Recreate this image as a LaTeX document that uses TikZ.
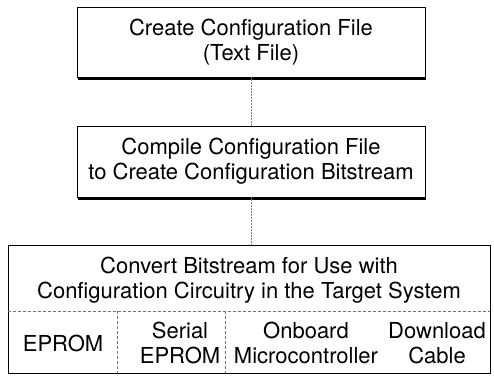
\documentclass[tikz,border=0pt]{standalone}
\usepackage{fontspec}
\setmainfont{TeX Gyre Heros}
\usetikzlibrary{shadows}

\begin{document}
\begin{tikzpicture}[
			x=1pt, y=-1pt,
			font=\fontsize{22}{25}\selectfont,
			stepbox/.style={draw, fill=white, line width=0.8pt, minimum width=348pt, align=center, inner sep=0pt,
				drop shadow={shadow xshift=1.2pt, shadow yshift=-2.5pt, opacity=1, fill=black}},
			framebox/.style={draw, line width=0.8pt, minimum width=482pt, minimum height=128pt, inner sep=0pt},
			cell/.style={align=center, inner sep=0pt},
			divider/.style={draw, black!55, line width=0.6pt, densely dashed},
			link/.style={draw, black!50, line width=0.5pt, densely dotted}
			]
			\useasboundingbox (0,0) rectangle (494,375);
			% the two steps with shadow
			\node[stepbox, minimum height=70pt] (create) at (251,42) {Create Configuration File\\(Text File)};
			\node[stepbox, minimum height=71pt] (compile) at (251,161.5) {Compile Configuration File\\to Create Configuration Bitstream};
			% last step, split into targets
			\node[framebox] (convert) at (249,309) {};
			\node[cell] (convtext) at (249,280) {Convert Bitstream for Use with\\Configuration Circuitry in the Target System};
			\coordinate (split) at (0,311);
			\coordinate (cut1) at (117,311);
			\coordinate (cut2) at (225,311);
			\draw[divider] (convert.west |- split) -- (convert.east |- split);
			\draw[divider] (cut1) -- (cut1 |- convert.south);
			\draw[divider] (cut2) -- (cut2 |- convert.south);
			\node[cell] (eprom) at (63,343) {EPROM};
			\node[cell] (serial) at (180,343) {Serial\\EPROM};
			\node[cell] (onboard) at (306,343) {Onboard\\Microcontroller};
			\node[cell] (cable) at (437,343) {Download\\Cable};
			% connectors
			\draw[link] (create) -- (compile);
			\draw[link] (compile.south) -- (compile.south |- convert.north);
		\end{tikzpicture}
\end{document}
